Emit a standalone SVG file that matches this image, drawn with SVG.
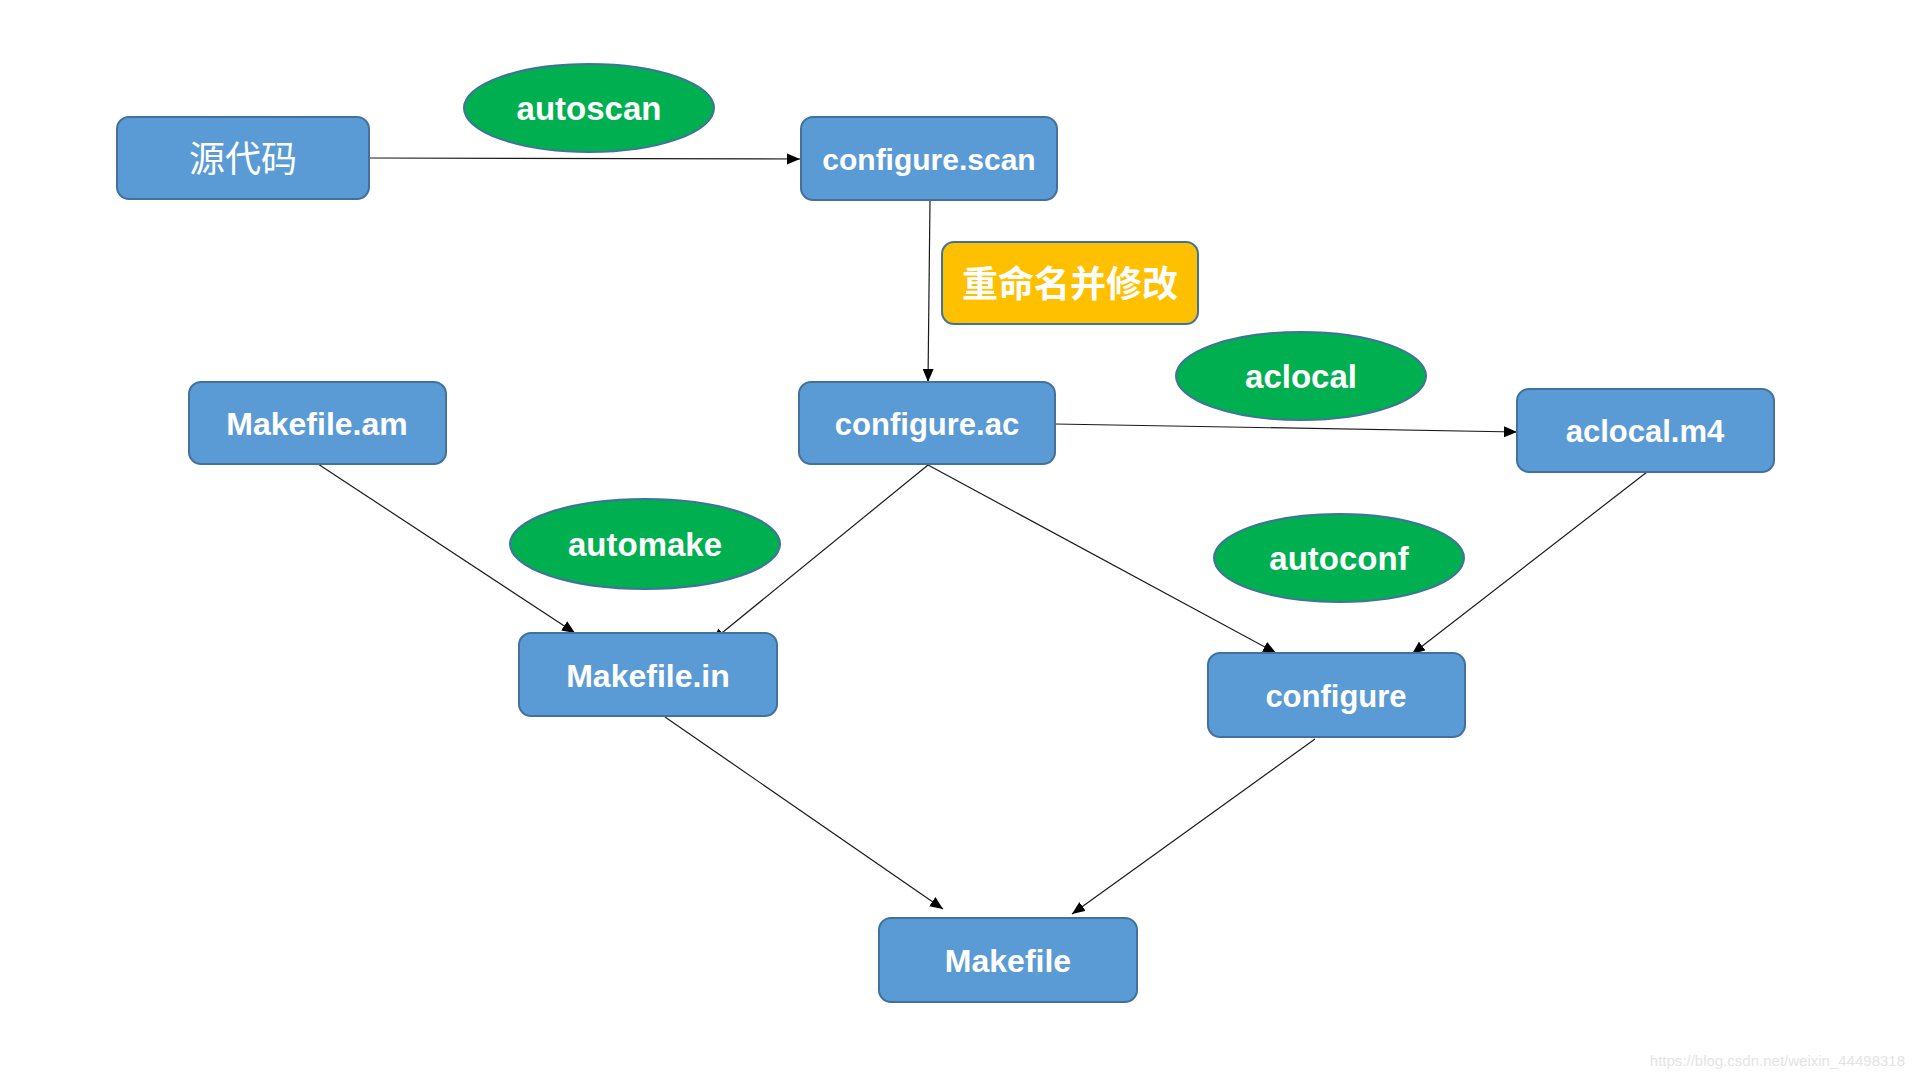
<svg xmlns="http://www.w3.org/2000/svg" width="1914" height="1079" viewBox="0 0 1914 1079">
<style>
.box{fill:#5B9BD5;stroke:#41719C;stroke-width:2}
.tool{fill:#00B050;stroke:#41719C;stroke-width:2}
.note{fill:#FFC000;stroke:#41719C;stroke-width:2}
.lbl{font-family:"Liberation Sans",Arial,sans-serif;font-weight:bold;fill:#fff;text-anchor:middle}
.cjk{font-family:"Noto Sans CJK SC","Liberation Sans",sans-serif;fill:#fff;text-anchor:middle}
.edge{stroke:#1a1a1a;stroke-width:1.2;fill:none;marker-end:url(#arr)}
</style>
<defs>
<marker id="arr" markerUnits="userSpaceOnUse" markerWidth="14" markerHeight="12" refX="13" refY="5.5" orient="auto">
<path d="M0,0 L13,5.5 L0,11 z" fill="#000"/>
</marker>
</defs>
<rect width="1914" height="1079" fill="#fff"/>
<g id="connectors">
<line class="edge" x1="369" y1="158" x2="800" y2="159"/>
<line class="edge" x1="930" y1="200" x2="928" y2="382"/>
<line class="edge" x1="1055" y1="424" x2="1517" y2="432"/>
<line class="edge" x1="318" y1="464" x2="575" y2="633"/>
<line class="edge" x1="928" y1="465" x2="712" y2="641"/>
<line class="edge" x1="928" y1="465" x2="1276" y2="653"/>
<line class="edge" x1="1647" y1="472" x2="1412" y2="654"/>
<line class="edge" x1="665" y1="717" x2="943" y2="909"/>
<line class="edge" x1="1315" y1="739" x2="1072" y2="914"/>
</g>
<g id="src"><rect class="box" x="117" y="117" width="252" height="82" rx="12"/><text class="cjk" x="243" y="172" font-size="36">源代码</text></g>
<g id="autoscan"><ellipse class="tool" cx="589" cy="108" rx="125" ry="44"/><text class="lbl" x="589" y="120" font-size="33">autoscan</text></g>
<g id="configure_scan"><rect class="box" x="801" y="117" width="256" height="83" rx="12"/><text class="lbl" x="929" y="170" font-size="30">configure.scan</text></g>
<g id="rename"><rect class="note" x="942" y="242" width="256" height="82" rx="12"/><text class="cjk" x="1070" y="297" font-size="36" font-weight="bold">重命名并修改</text></g>
<g id="configure_ac"><rect class="box" x="799" y="382" width="256" height="82" rx="12"/><text class="lbl" x="927" y="435" font-size="31">configure.ac</text></g>
<g id="aclocal"><ellipse class="tool" cx="1301" cy="376" rx="125" ry="44"/><text class="lbl" x="1301" y="388" font-size="33">aclocal</text></g>
<g id="aclocal_m4"><rect class="box" x="1517" y="389" width="257" height="83" rx="12"/><text class="lbl" x="1645" y="442" font-size="31">aclocal.m4</text></g>
<g id="makefile_am"><rect class="box" x="189" y="382" width="257" height="82" rx="12"/><text class="lbl" x="317" y="435" font-size="32">Makefile.am</text></g>
<g id="automake"><ellipse class="tool" cx="645" cy="544" rx="135" ry="45"/><text class="lbl" x="645" y="556" font-size="33">automake</text></g>
<g id="makefile_in"><rect class="box" x="519" y="633" width="258" height="83" rx="12"/><text class="lbl" x="648" y="687" font-size="32">Makefile.in</text></g>
<g id="autoconf"><ellipse class="tool" cx="1339" cy="558" rx="125" ry="44"/><text class="lbl" x="1339" y="570" font-size="33">autoconf</text></g>
<g id="configure"><rect class="box" x="1208" y="653" width="257" height="84" rx="12"/><text class="lbl" x="1336" y="707" font-size="31">configure</text></g>
<g id="makefile"><rect class="box" x="879" y="918" width="258" height="84" rx="12"/><text class="lbl" x="1008" y="972" font-size="32">Makefile</text></g>
<text x="1905" y="1066" font-family="Liberation Sans,Arial,sans-serif" font-size="15" fill="#e4e4e4" text-anchor="end">https://blog.csdn.net/weixin_44498318</text>
</svg>
